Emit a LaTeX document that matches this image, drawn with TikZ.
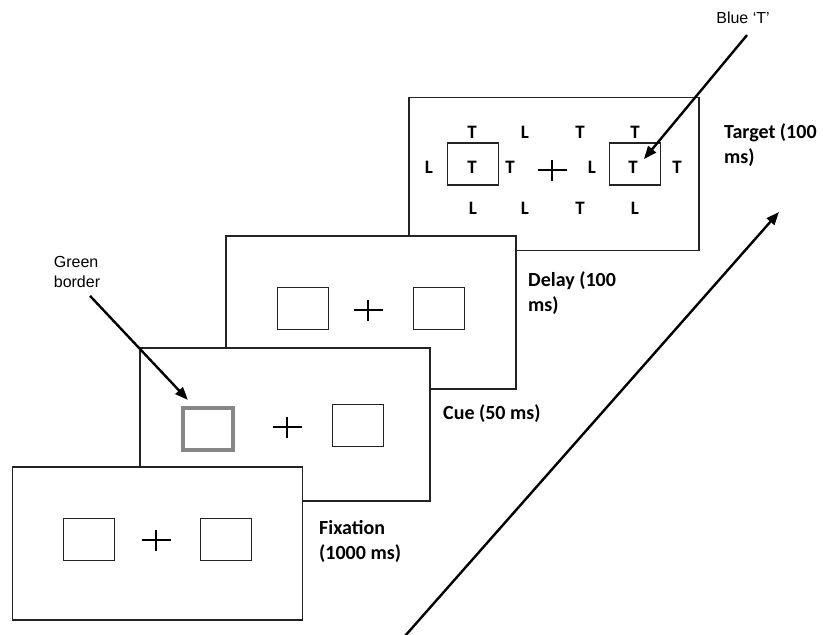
\documentclass[tikz,border=0pt]{standalone}
\usepackage{fontspec}
\setmainfont{Carlito}
\newfontfamily\helv{Liberation Sans}
\usetikzlibrary{arrows.meta,positioning}
\definecolor{framecol}{RGB}{35,35,35}
\definecolor{cuegrey}{RGB}{135,135,135}
\tikzset{
  panel/.style={draw=framecol,fill=white,line width=1.6pt,minimum width=290pt,minimum height=153pt,inner sep=0pt},
  slot/.style={draw=framecol,line width=1.4pt,minimum width=51pt,minimum height=42pt,inner sep=0pt},
  cueslot/.style={draw=cuegrey,line width=4.2pt,minimum width=50pt,minimum height=42pt,inner sep=0pt},
  fixx/.style={line width=2.4pt,black},
  lett/.style={font=\fontsize{19}{19}\selectfont\bfseries,inner sep=0pt},
  durlab/.style={font=\fontsize{20}{25}\selectfont\bfseries,align=left,anchor=north west,inner sep=0pt},
  note/.style={font=\helv\fontsize{16}{20}\selectfont,align=left,inner sep=0pt},
  arr/.style={-{Triangle[length=13pt,width=10pt]},line width=2.4pt},
}

\begin{document}
\begin{tikzpicture}[x=1pt,y=-1pt]
  \useasboundingbox (0,0) rectangle (823,635);
  \node[panel] (tgt) at (554,174) {};
  \node[slot] (tl) at (473,164) {};
  \node[slot] (tr) at (635,164) {};
  \coordinate (tc) at (552,170);
  \draw[fixx] ([shift={(-14.5,0)}]tc) -- ++(29,0) ([shift={(0,-10.5)}]tc) -- ++(0,21);
  \foreach \x/\y/\c [count=\i] in {472/132/T,525/132/L,580/132/T,635/132/T,
      429/167/L,472/167/T,510/167/T,592/167/L,677/167/T,
      473/208/L,525/208/L,580/208/T,635/208/L}
    \node[lett] (let\i) at (\x,\y) {\c};
  \node[lett] (blueT) at (633,167) {T};
  \node[durlab] (tgtlab) at (724,123) {Target (100\\ms)};

  \node[panel] (dly) at (371,312.5) {};
  \node[slot] (dl) at (303,308.5) {};
  \node[slot] (dr) at (439,308.5) {};
  \coordinate (dc) at (368,310);
  \draw[fixx] ([shift={(-14.5,0)}]dc) -- ++(29,0) ([shift={(0,-10.5)}]dc) -- ++(0,21);
  \node[durlab] (dlylab) at (528,271) {Delay (100\\ms)};

  \node[panel] (cue) at (285,424.5) {};
  \node[cueslot] (cl) at (208,429) {};
  \node[slot] (cr) at (358,425.5) {};
  \coordinate (cc) at (287,427);
  \draw[fixx] ([shift={(-14.5,0)}]cc) -- ++(29,0) ([shift={(0,-10.5)}]cc) -- ++(0,21);
  \node[durlab] (cuelab) at (443,404) {Cue (50 ms)};

  \node[panel] (fix) at (157.5,543.5) {};
  \node[slot] (fl) at (89,539.5) {};
  \node[slot] (fr) at (226,539.5) {};
  \coordinate (fc) at (156,540);
  \draw[fixx] ([shift={(-14.5,0)}]fc) -- ++(29,0) ([shift={(0,-10.5)}]fc) -- ++(0,21);
  \node[durlab] (fixlab) at (319,520) {Fixation\\(1000 ms)};

  \node[note] (bluelab) at (743,18) {Blue ‘T’};
  \node[note] (greenlab) at (77,272) {Green\\border};
  \draw[arr] ([shift={(4,11)}]bluelab.south) -- ([shift={(6,-1.5)}]blueT.north east);
  \draw[arr] ([shift={(13,8)}]greenlab.south) -- ([shift={(7,-6)}]cl.north west);

  \coordinate (tstart) at (405,636);
  \coordinate (tend) at (779,212);
  \draw[arr] (tstart) -- (tend);
\end{tikzpicture}
\end{document}
